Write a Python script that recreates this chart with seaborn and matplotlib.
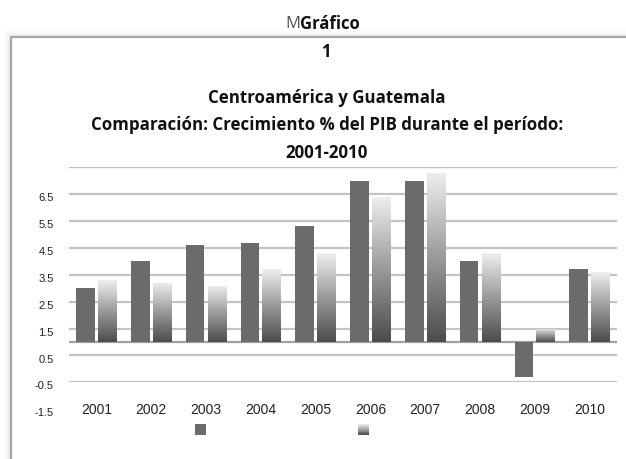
import numpy as np
import pandas as pd
import seaborn as sns
import matplotlib
matplotlib.use("Agg")
import matplotlib.pyplot as plt
from matplotlib.patches import Rectangle
from matplotlib.transforms import ScaledTranslation
from matplotlib.legend_handler import HandlerBase

# Crecimiento % del PIB, 2001-2010
years = ["2001", "2002", "2003", "2004", "2005", "2006", "2007", "2008", "2009", "2010"]
centroamerica = [2.0, 3.0, 3.6, 3.7, 4.3, 6.0, 6.0, 3.0, -1.3, 2.7]
guatemala = [2.3, 2.2, 2.1, 2.7, 3.3, 5.4, 6.3, 3.3, 0.5, 2.6]
series_names = ["Centroamérica", "Guatemala"]
y_ticks = [-1.5, -0.5, 0.5, 1.5, 2.5, 3.5, 4.5, 5.5, 6.5]
y_tick_labels = ["-1.5", "-0.5", "0.5", "1.5", "2.5", "3.5", "4.5", "5.5", "6.5"]
top_grid = 6.5

df = pd.DataFrame({
    "Año": years * 2,
    "Crecimiento": centroamerica + guatemala,
    "Región": [series_names[0]] * len(years) + [series_names[1]] * len(years),
})

sns.set_theme(style="white")
plt.rcParams["font.family"] = ["Liberation Sans", "DejaVu Sans"]

W, H = 626, 460
fig = plt.figure(figsize=(W / 100, H / 100), dpi=100)
fig.patch.set_facecolor("white")

def fx(px):
    return px / W

def fy(py):
    return 1 - py / H

# chart frame with a soft shadow
for i, a in enumerate([0.06, 0.05, 0.04, 0.03, 0.02, 0.012, 0.006]):
    off = i + 1
    fig.patches.append(Rectangle((fx(11 - off), fy(480)), fx(700), fy(38 - off) - fy(480),
                                 transform=fig.transFigure, fill=False,
                                 edgecolor="black", alpha=a, linewidth=1.0, zorder=-3))
fig.patches.append(Rectangle((fx(11), fy(480)), fx(700), fy(38) - fy(480),
                             transform=fig.transFigure, facecolor="white",
                             edgecolor="#a6a6a6", linewidth=1.6, zorder=-2))

title_font = ["Open Sans", "DejaVu Sans"]

# header
fig.text(fx(300), fy(24), "M", ha="right", va="center", fontsize=12,
         family=title_font, fontweight="normal", color="#555555")
fig.text(fx(300), fy(24), "Gráfico", ha="left", va="center", fontsize=12,
         family=title_font, fontweight="bold", color="#111111")
fig.text(fx(326), fy(52), "1", ha="center", va="center", fontsize=12,
         family=title_font, fontweight="bold", color="#111111")

title_lines = ["Centroamérica y Guatemala",
               "Comparación: Crecimiento % del PIB durante el período:",
               "2001-2010"]
for line, ypx in zip(title_lines, [98, 125, 153]):
    fig.text(fx(327), fy(ypx), line, ha="center", va="center", fontsize=12.2,
             family=title_font, fontweight="bold", color="#111111")

ax = fig.add_axes([fx(69), fy(383.3), fx(617 - 69), fy(168.3) - fy(383.3)])
ax.set_facecolor("none")

dark = "#6b6b6b"
light = "#bdbdbd"
sns.barplot(data=df, x="Año", y="Crecimiento", hue="Región", order=years,
            hue_order=series_names, palette=[dark, light], width=0.8, gap=0.15,
            saturation=1, linewidth=0, legend=False, ax=ax, zorder=3)

# gradient fill for the Guatemala bars
grad = np.linspace(0, 1, 256).reshape(-1, 1)
cmap = matplotlib.colors.LinearSegmentedColormap.from_list("g", ["#4c4c4c", "#9a9a9a", "#efefef"])
for p in ax.containers[1]:
    x0, y0 = p.get_x(), p.get_y()
    w, h = p.get_width(), p.get_height()
    lo, hi = min(y0, y0 + h), max(y0, y0 + h)
    im = ax.imshow(grad, extent=[x0, x0 + w, lo, hi], origin="lower", cmap=cmap,
                   aspect="auto", zorder=3, interpolation="bilinear")
    im.set_clip_path(p)
    p.set_facecolor("none")

ax.set_xlim(-0.5, len(years) - 0.5)
ax.set_ylim(-1.5, top_grid)
ax.set_yticks(y_ticks)
ax.set_yticklabels(y_tick_labels)
for v in y_ticks + [top_grid]:
    ax.axhline(v, color="#c4c4c4", linewidth=1.6, zorder=1)
ax.axhline(0, color="#a0a0a0", linewidth=1.6, zorder=2)
for s in ax.spines.values():
    s.set_visible(False)
ax.set_xlabel("")
ax.set_ylabel("")
ax.tick_params(axis="x", length=0, pad=14, labelsize=10, labelcolor="#222222")
ax.tick_params(axis="y", length=0, pad=11, labelsize=8, labelcolor="#222222")
for lbl in ax.get_yticklabels():
    lbl.set_family(["Liberation Sans Narrow", "Liberation Sans"])
shift = ScaledTranslation(0, -0.29, fig.dpi_scale_trans)
for t in ax.yaxis.get_major_ticks():
    t.label1.set_transform(t.label1.get_transform() + shift)


class GradientHandler(HandlerBase):
    def create_artists(self, legend, orig_handle, xdescent, ydescent, width, height,
                       fontsize, trans):
        n = 12
        out = []
        for i in range(n):
            c = cmap((i + 0.5) / n)
            out.append(Rectangle((-xdescent, -ydescent + height * i / n), width, height / n + 0.05,
                                 facecolor=c, edgecolor="none", transform=trans))
        return out


h_dark = Rectangle((0, 0), 1, 1, facecolor=dark, edgecolor="none")
h_light = Rectangle((0, 0), 1, 1, facecolor=light, edgecolor="none")
fig.legend([h_dark, h_light], ["", ""], ncol=2, loc="center",
           bbox_to_anchor=(fx(282), fy(431)), frameon=False, fontsize=8,
           handlelength=1.0, handleheight=1.1, handletextpad=0.0,
           columnspacing=13.6, borderpad=0, borderaxespad=0,
           handler_map={h_light: GradientHandler()})

fig.savefig("out.png", dpi=100, facecolor="white")
